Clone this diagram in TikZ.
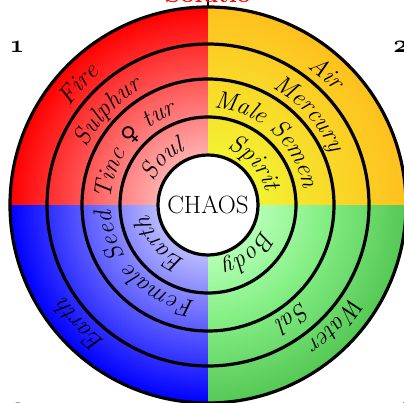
\documentclass[tikz,border=0pt]{standalone}
\usepackage{fontspec}
\newfontfamily\symfont{DejaVu Sans}
\usetikzlibrary{decorations.text}
\newcommand\ringfont{\fontsize{25}{30}\selectfont\itshape}
\newcommand\venusfont{\fontsize{22}{26}\selectfont\symfont\upshape}
\newcommand\osnum[1]{{\fontencoding{OML}\fontfamily{cmm}\fontseries{b}\fontshape{it}\selectfont #1}}

\definecolor{redin}{RGB}{255,175,175}
\definecolor{redout}{RGB}{255,0,0}
\definecolor{yelin}{RGB}{242,242,50}
\definecolor{yelout}{RGB}{255,192,30}
\definecolor{bluin}{RGB}{185,185,255}
\definecolor{bluout}{RGB}{0,0,255}
\definecolor{grnin}{RGB}{180,255,180}
\definecolor{grnmid}{RGB}{135,240,135}
\definecolor{grnout}{RGB}{85,200,85}

% the path's bounding box maps to the central 50bp square: circle radius 198 <-> 25bp
\pgfdeclareradialshading{redsh}{\pgfpoint{0bp}{0bp}}{color(0bp)=(redin); color(6.3bp)=(redin); color(25bp)=(redout); color(50bp)=(redout)}
\pgfdeclareradialshading{yelsh}{\pgfpoint{0bp}{0bp}}{color(0bp)=(yelin); color(6.3bp)=(yelin); color(25bp)=(yelout); color(50bp)=(yelout)}
\pgfdeclareradialshading{blush}{\pgfpoint{0bp}{0bp}}{color(0bp)=(bluin); color(6.3bp)=(bluin); color(25bp)=(bluout); color(50bp)=(bluout)}
\pgfdeclareradialshading{grnsh}{\pgfpoint{0bp}{0bp}}{color(0bp)=(grnin); color(6.3bp)=(grnin); color(14bp)=(grnmid); color(25bp)=(grnout); color(50bp)=(grnout)}

\begin{document}
\begin{tikzpicture}[x=1pt,y=1pt,
  ring/.style={line width=3.2pt},
  arctext/.style={decorate, decoration={text along path, text align=center, text={#1}}},
  numlbl/.style={font=\fontsize{30}{34}\selectfont, inner sep=0pt, anchor=base}]
\useasboundingbox (-208,-197) rectangle (196,205);

% coloured quadrants
\begin{scope}\clip (0,0) rectangle (-200,200); \shade[shading=redsh] (0,0) circle (198); \end{scope}
\begin{scope}\clip (0,0) rectangle (200,200); \shade[shading=yelsh] (0,0) circle (198); \end{scope}
\begin{scope}\clip (0,0) rectangle (-200,-200); \shade[shading=blush] (0,0) circle (198); \end{scope}
\begin{scope}\clip (0,0) rectangle (200,-200); \shade[shading=grnsh] (0,0) circle (198); \end{scope}

% rings
\draw[ring] (0,0) circle (88);
\draw[ring] (0,0) circle (126);
\draw[ring] (0,0) circle (161);
\draw[ring] (0,0) circle (198);

\node[circle, draw, line width=3.2pt, fill=white, minimum size=100pt, inner sep=0pt,
      font=\fontsize{25}{30}\selectfont] (chaos) at (0,0) {CHAOS};

% top tick and title
\coordinate (top) at (90:198);
\coordinate (tickend) at (0,206);
\draw[line width=2.5pt] (top) -- (tickend);
\node[font=\bfseries\fontsize{25}{30}\selectfont, text=red, anchor=base, inner sep=0pt] (title) at (0,202) {Solutio};

% corner numbers
\node[numlbl] (n1) at (-191,153) {\osnum{1}};
\node[numlbl] (n2) at (192.5,153) {\osnum{2}};
\node[numlbl] (n3) at (-190,-209) {\osnum{3}};
\node[numlbl] (n4) at (193,-209) {\osnum{4}};

% top-left (red)
\path[arctext={|\ringfont|Fire}] (197:170) arc[start angle=197, end angle=77, radius=170];
\path[arctext={|\ringfont|Sulphur}] (197:134) arc[start angle=197, end angle=77, radius=134];
\path[arctext={|\ringfont|Tinc |\venusfont|♀|\ringfont| tur}] (203:97) arc[start angle=203, end angle=83, radius=97];
\path[arctext={|\ringfont|Soul}] (195:59) arc[start angle=195, end angle=75, radius=59];

% top-right (yellow)
\path[arctext={|\ringfont|Air}] (108:170) arc[start angle=108, end angle=-12, radius=170];
\path[arctext={|\ringfont|Mercury}] (102:134) arc[start angle=102, end angle=-18, radius=134];
\path[arctext={|\ringfont|Male Semen}] (108:97) arc[start angle=108, end angle=-12, radius=97];
\path[arctext={|\ringfont|Spirit}] (102:59) arc[start angle=102, end angle=-18, radius=59];

% bottom-left (blue)
\path[arctext={|\ringfont|Earth}] (-77:170) arc[start angle=-77, end angle=-197, radius=170];
\path[arctext={|\ringfont|Female Seed}] (-77:97) arc[start angle=-77, end angle=-197, radius=97];
\path[arctext={|\ringfont|Earth}] (-81:59) arc[start angle=-81, end angle=-201, radius=59];

% bottom-right (green)
\path[arctext={|\ringfont|Water}] (17:170) arc[start angle=17, end angle=-103, radius=170];
\path[arctext={|\ringfont|Sal}] (7:134) arc[start angle=7, end angle=-113, radius=134];
\path[arctext={|\ringfont|Body}] (10:59) arc[start angle=10, end angle=-110, radius=59];
\end{tikzpicture}
\end{document}
